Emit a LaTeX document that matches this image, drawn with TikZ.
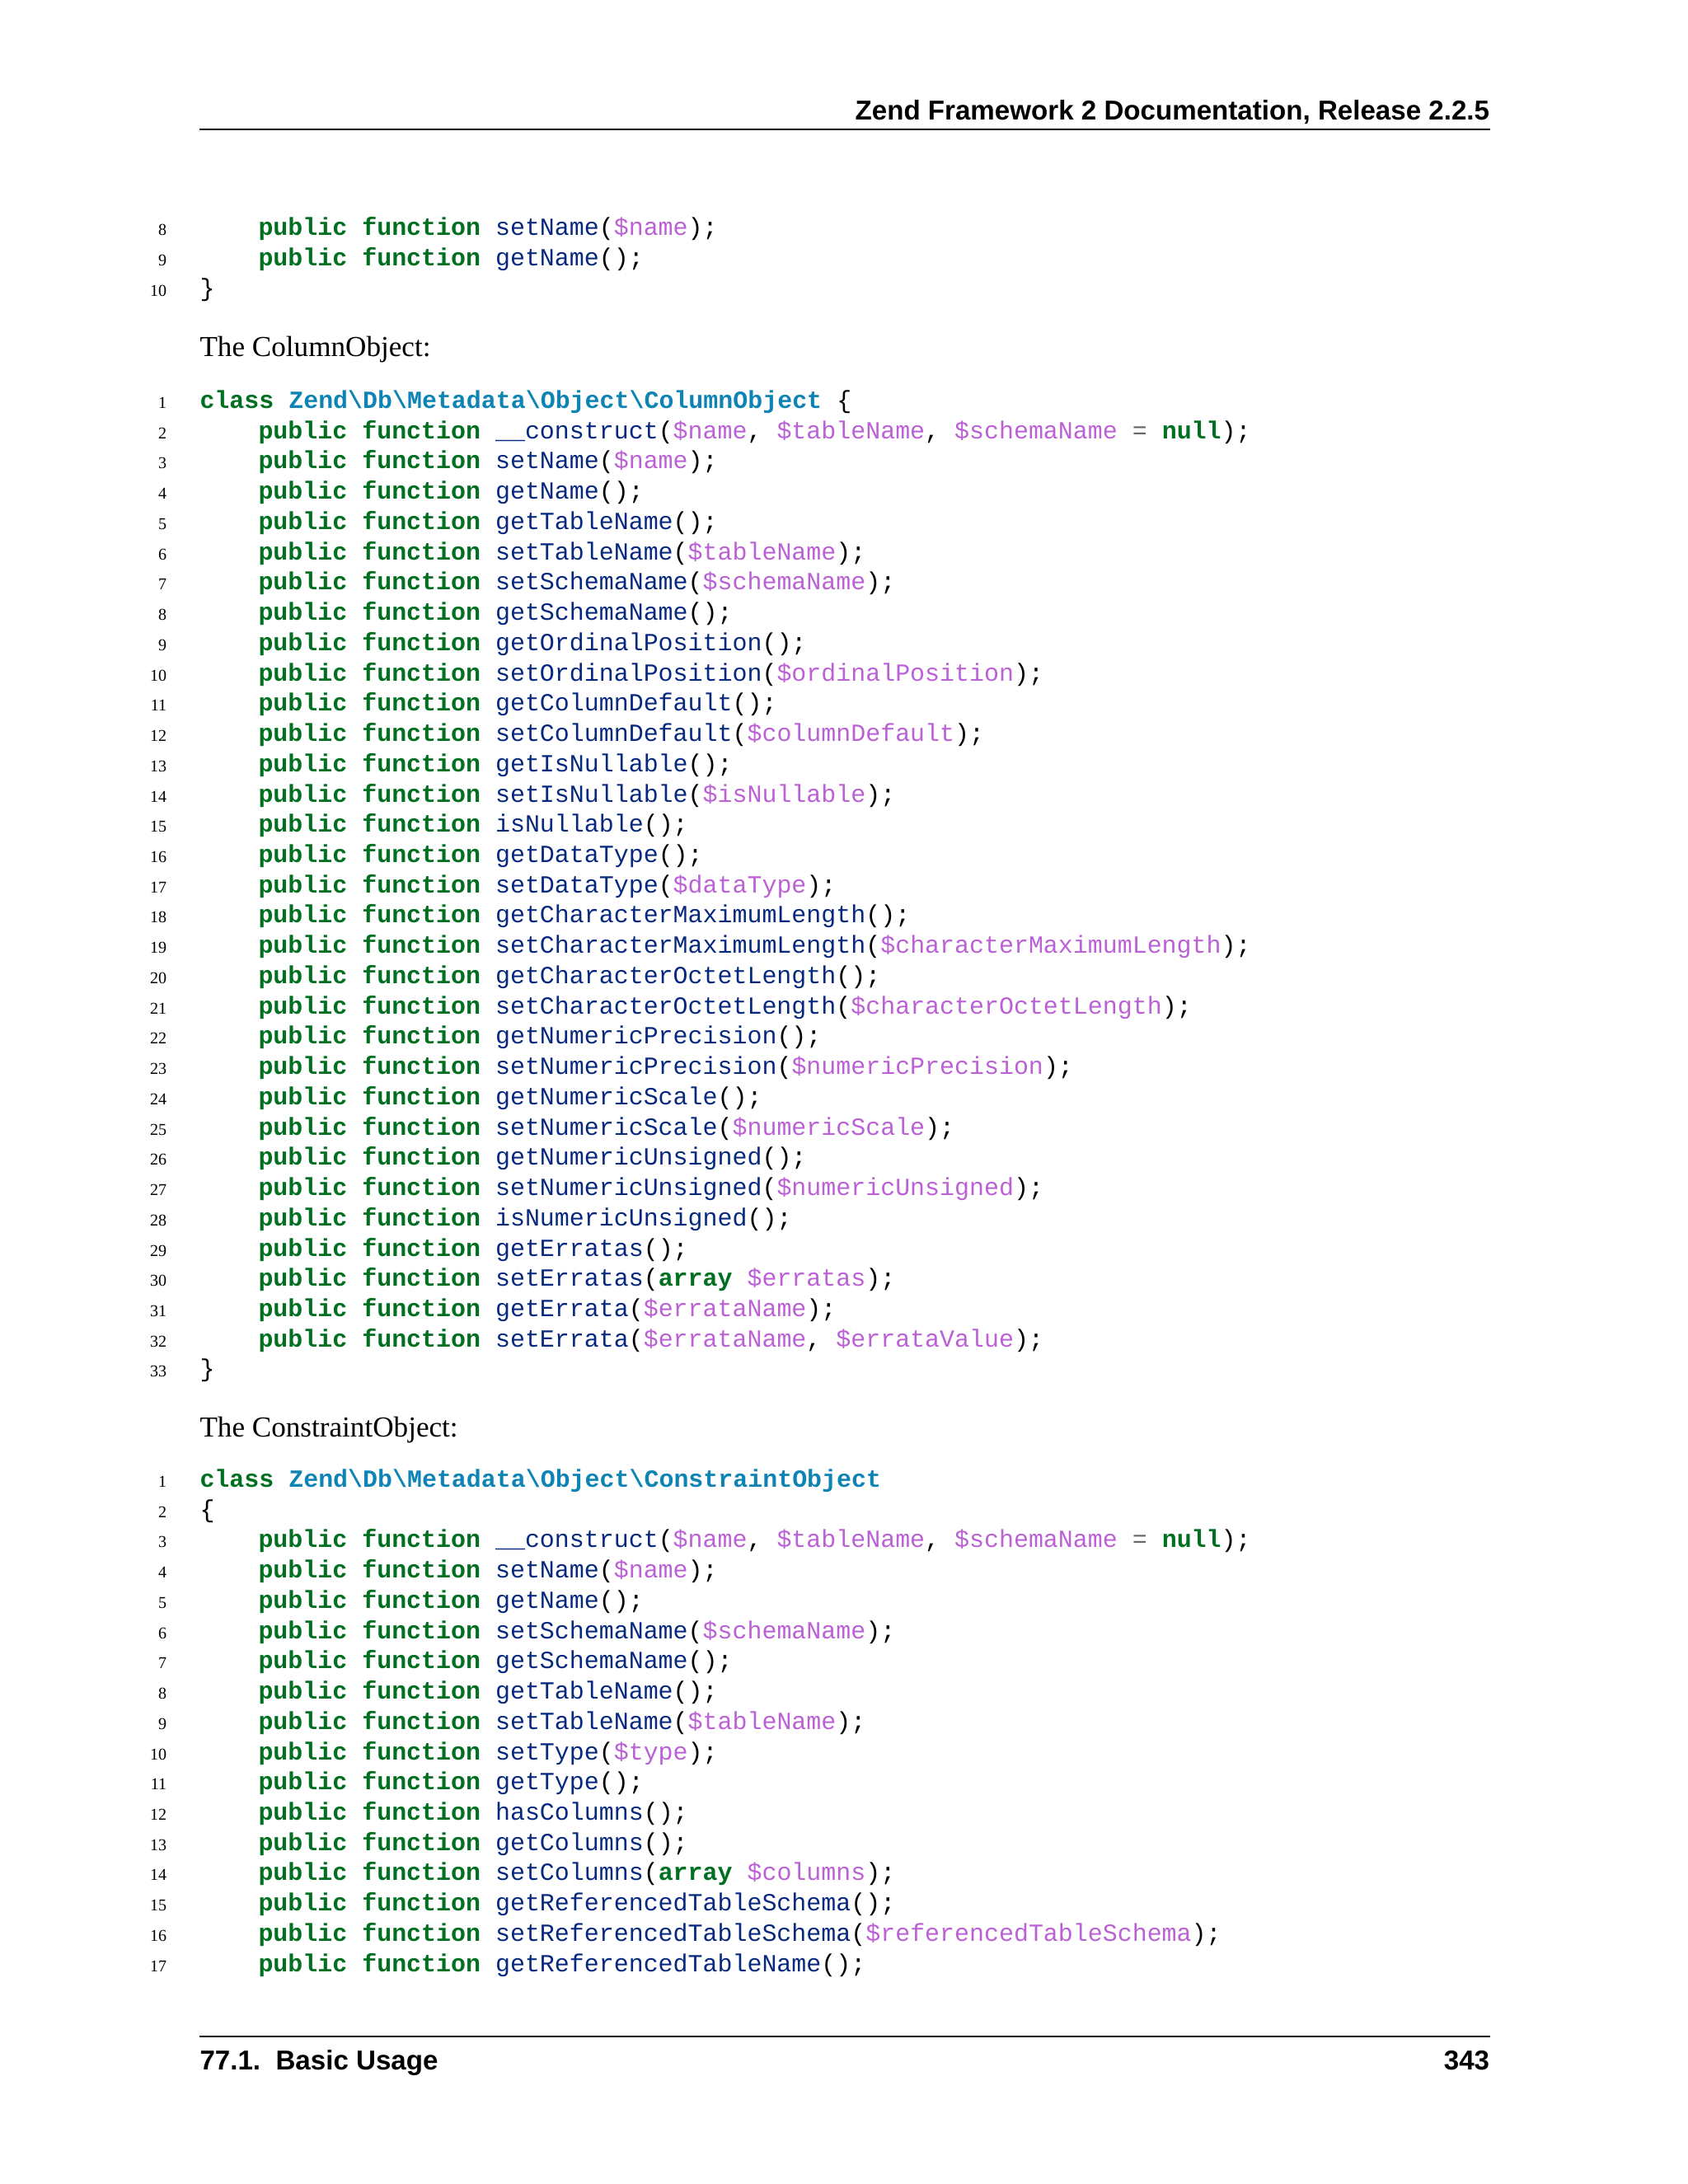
\documentclass[tikz,border=0pt]{standalone}
\usepackage{fontspec}
\setmainfont{Liberation Serif}
\newfontfamily\mono{Liberation Mono}
\newfontfamily\hsans{Liberation Sans}
\definecolor{kw}{HTML}{007020}
\definecolor{fn}{HTML}{06287E}
\definecolor{va}{HTML}{BB60D5}
\definecolor{cn}{HTML}{0E84B5}
\definecolor{op}{HTML}{666666}
\newcommand\K[1]{\textcolor{kw}{\bfseries #1}}
\newcommand\F[1]{\textcolor{fn}{#1}}
\newcommand\V[1]{\textcolor{va}{\$#1}}
\newcommand\PF[2]{\K{public}\ \K{function}\ \F{#1}(#2);}
\newcommand\bs{\textbackslash}
\tikzset{code/.style={anchor=base west,inner sep=0,font=\mono\fontsize{8.95}{11}\selectfont},
ln/.style={anchor=base east,inner sep=0,font=\fontsize{6}{7}\selectfont},
body/.style={anchor=base west,inner sep=0,font=\fontsize{10.5}{12}\selectfont},
hd/.style={inner sep=0,font=\hsans\bfseries\fontsize{9.9}{12}\selectfont}}
\newcommand\cl[4]{\node[ln] at (120,{#1+(#2-1)*21.72+5}) {#2}; \node[code] at (#3,{#1+(#2-1)*21.72+5}) {#4};}
\begin{document}
\begin{tikzpicture}[x=0.5054pt,y=-0.5054pt]
\useasboundingbox (0,0) rectangle (1211,1567);
\node[hd,anchor=base east] (hdr) at (1069,86) {Zend Framework 2 Documentation, Release 2.2.5};
\draw[line width=0.6pt] (143,93) -- (1069,93);
\draw[line width=0.6pt] (143,1461) -- (1069,1461);
\node[hd,anchor=base west] (ftl) at (143,1485) {77.1.\ \ Basic Usage};
\node[hd,anchor=base east] (ftr) at (1069,1485) {343};
% block 1
\def\a{11.96}
\cl{\a}{8}{185}{\PF{setName}{\V{name}}}
\cl{\a}{9}{185}{\PF{getName}{}}
\cl{\a}{10}{143}{\}}
\node[body] (t1) at (143,256) {The ColumnObject:};
% block 2
\def\b{288}
\cl{\b}{1}{143}{\K{class}\ \textcolor{cn}{\bfseries Zend\bs Db\bs Metadata\bs Object\bs ColumnObject}\ \{}
\cl{\b}{2}{185}{\PF{\_\_construct}{\V{name},\ \V{tableName},\ \V{schemaName}\ \textcolor{op}{=}\ \K{null}}}
\cl{\b}{3}{185}{\PF{setName}{\V{name}}}
\cl{\b}{4}{185}{\PF{getName}{}}
\cl{\b}{5}{185}{\PF{getTableName}{}}
\cl{\b}{6}{185}{\PF{setTableName}{\V{tableName}}}
\cl{\b}{7}{185}{\PF{setSchemaName}{\V{schemaName}}}
\cl{\b}{8}{185}{\PF{getSchemaName}{}}
\cl{\b}{9}{185}{\PF{getOrdinalPosition}{}}
\cl{\b}{10}{185}{\PF{setOrdinalPosition}{\V{ordinalPosition}}}
\cl{\b}{11}{185}{\PF{getColumnDefault}{}}
\cl{\b}{12}{185}{\PF{setColumnDefault}{\V{columnDefault}}}
\cl{\b}{13}{185}{\PF{getIsNullable}{}}
\cl{\b}{14}{185}{\PF{setIsNullable}{\V{isNullable}}}
\cl{\b}{15}{185}{\PF{isNullable}{}}
\cl{\b}{16}{185}{\PF{getDataType}{}}
\cl{\b}{17}{185}{\PF{setDataType}{\V{dataType}}}
\cl{\b}{18}{185}{\PF{getCharacterMaximumLength}{}}
\cl{\b}{19}{185}{\PF{setCharacterMaximumLength}{\V{characterMaximumLength}}}
\cl{\b}{20}{185}{\PF{getCharacterOctetLength}{}}
\cl{\b}{21}{185}{\PF{setCharacterOctetLength}{\V{characterOctetLength}}}
\cl{\b}{22}{185}{\PF{getNumericPrecision}{}}
\cl{\b}{23}{185}{\PF{setNumericPrecision}{\V{numericPrecision}}}
\cl{\b}{24}{185}{\PF{getNumericScale}{}}
\cl{\b}{25}{185}{\PF{setNumericScale}{\V{numericScale}}}
\cl{\b}{26}{185}{\PF{getNumericUnsigned}{}}
\cl{\b}{27}{185}{\PF{setNumericUnsigned}{\V{numericUnsigned}}}
\cl{\b}{28}{185}{\PF{isNumericUnsigned}{}}
\cl{\b}{29}{185}{\PF{getErratas}{}}
\cl{\b}{30}{185}{\PF{setErratas}{\K{array}\ \V{erratas}}}
\cl{\b}{31}{185}{\PF{getErrata}{\V{errataName}}}
\cl{\b}{32}{185}{\PF{setErrata}{\V{errataName},\ \V{errataValue}}}
\cl{\b}{33}{143}{\}}
\node[body] (t2) at (143,1031) {The ConstraintObject:};
% block 3
\def\c{1062}
\cl{\c}{1}{143}{\K{class}\ \textcolor{cn}{\bfseries Zend\bs Db\bs Metadata\bs Object\bs ConstraintObject}}
\cl{\c}{2}{143}{\{}
\cl{\c}{3}{185}{\PF{\_\_construct}{\V{name},\ \V{tableName},\ \V{schemaName}\ \textcolor{op}{=}\ \K{null}}}
\cl{\c}{4}{185}{\PF{setName}{\V{name}}}
\cl{\c}{5}{185}{\PF{getName}{}}
\cl{\c}{6}{185}{\PF{setSchemaName}{\V{schemaName}}}
\cl{\c}{7}{185}{\PF{getSchemaName}{}}
\cl{\c}{8}{185}{\PF{getTableName}{}}
\cl{\c}{9}{185}{\PF{setTableName}{\V{tableName}}}
\cl{\c}{10}{185}{\PF{setType}{\V{type}}}
\cl{\c}{11}{185}{\PF{getType}{}}
\cl{\c}{12}{185}{\PF{hasColumns}{}}
\cl{\c}{13}{185}{\PF{getColumns}{}}
\cl{\c}{14}{185}{\PF{setColumns}{\K{array}\ \V{columns}}}
\cl{\c}{15}{185}{\PF{getReferencedTableSchema}{}}
\cl{\c}{16}{185}{\PF{setReferencedTableSchema}{\V{referencedTableSchema}}}
\cl{\c}{17}{185}{\PF{getReferencedTableName}{}}
\end{tikzpicture}
\end{document}
